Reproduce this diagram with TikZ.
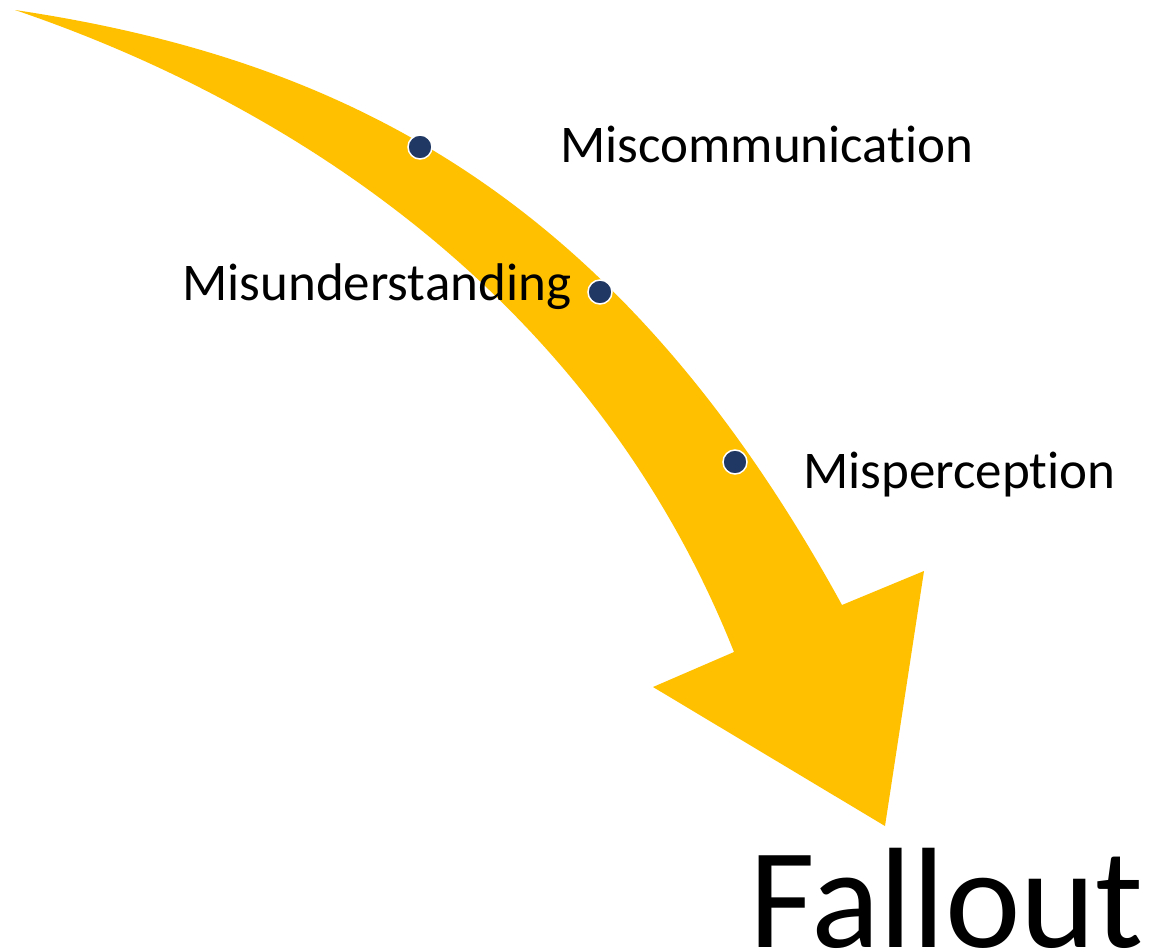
\documentclass[tikz,border=0pt]{standalone}
\usepackage{fontspec}
\setmainfont{Carlito}[Ligatures=NoCommon]
\usetikzlibrary{positioning}
\definecolor{arrowgold}{HTML}{FFC000}
\definecolor{dotnavy}{HTML}{203864}

\begin{document}
\begin{tikzpicture}[x=1pt,y=-1pt]
		\tikzstyle{waypoint}=[circle, fill=dotnavy, draw=white, line width=1.5pt, minimum size=24pt, inner sep=0pt]
		\tikzstyle{stage}=[anchor=base west, inner sep=0pt, font=\fontsize{53}{60}\selectfont]
		\useasboundingbox (0,0) rectangle (1153,951);
		% the curved arrow
		\fill[arrowgold] (15,10) .. controls (350,60) and (620,200) .. (842,605)
			-- (924,571) -- (885,826) -- (653,687) -- (734,652)
			.. controls (590,290) and (280,100) .. (15,10) -- cycle;
		\node[waypoint] (d1) at (420,147) {};
		\node[waypoint] (d2) at (600,292) {};
		\node[waypoint] (d3) at (735,462) {};
		\node[stage] (miscomm) at (560,162) {Miscommunication};
		\node[stage] (misunder) at (182,300) {Misunderstanding};
		\node[stage] (misperc) at (803,488) {Misperception};
		\node[stage, font=\fontsize{143}{160}\selectfont] (fallout) at (749,947) {Fallout};
	\end{tikzpicture}
\end{document}
